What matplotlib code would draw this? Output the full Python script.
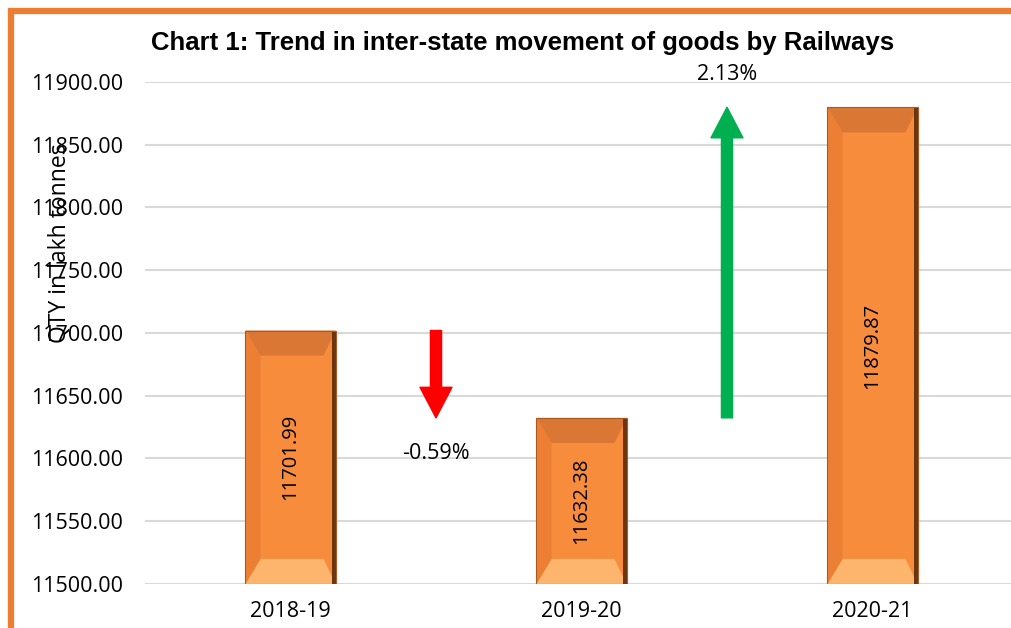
import matplotlib.pyplot as plt
from matplotlib.patches import Polygon, Rectangle

years = ["2018-19", "2019-20", "2020-21"]
qty = [11701.99, 11632.38, 11879.87]
changes = ["-0.59%", "2.13%"]

ORANGE = "#F68C3C"
TOP_BEVEL = "#DA7735"
BOTTOM_BEVEL = "#FDB46C"
LEFT_BEVEL = "#EC7F33"
RIGHT_EDGE = "#6B3510"
BORDER = "#ED7D31"

plt.rcParams["font.family"] = ["Open Sans", "DejaVu Sans"]

fig = plt.figure(figsize=(10.11, 6.28), dpi=100)
ax = fig.add_axes([145 / 1011, 44 / 628, 873 / 1011, 502 / 628])

ymin, ymax = 11500, 11900
ax.set_xlim(-0.5, 2.5)
ax.set_ylim(ymin, ymax)

bar_w = 0.31
bars = ax.bar(range(len(years)), [v - ymin for v in qty], bottom=ymin,
              width=bar_w, color=ORANGE, edgecolor="none", zorder=2)

# bevel look like the excel bars
dx = 0.052
dy = 20
for i, (b, v) in enumerate(zip(bars, qty)):
    x0 = b.get_x()
    x1 = x0 + b.get_width()
    y0, y1 = ymin, v
    ax.add_patch(Polygon([(x0, y1), (x1, y1), (x1 - dx * 0.8, y1 - dy), (x0 + dx, y1 - dy)],
                         closed=True, color=TOP_BEVEL, lw=0, zorder=3))
    ax.add_patch(Polygon([(x0, y0), (x1, y0), (x1 - dx * 0.8, y0 + dy), (x0 + dx, y0 + dy)],
                         closed=True, color=BOTTOM_BEVEL, lw=0, zorder=3))
    ax.add_patch(Polygon([(x0, y0), (x0, y1), (x0 + dx, y1 - dy), (x0 + dx, y0 + dy)],
                         closed=True, color=LEFT_BEVEL, lw=0, zorder=3))
    ax.add_patch(Rectangle((x1 - 0.012, y0), 0.012, y1 - y0, color=RIGHT_EDGE, lw=0, zorder=4))
    ax.add_patch(Rectangle((x0, y0), bar_w, y1 - y0, fill=False, edgecolor="#A85A22",
                           lw=0.8, zorder=4))
    ax.text(i, (y0 + y1) / 2, f"{v:.2f}", rotation=90, ha="center", va="center",
            fontsize=14.5, color="black", zorder=5)

# change arrows between the bars
arrow_cols = ["#FF0000", "#00B050"]
for k in range(len(changes)):
    start, end = qty[k], qty[k + 1]
    ax.annotate("", xy=(k + 0.5, end), xytext=(k + 0.5, start),
                arrowprops=dict(width=8, headwidth=23, headlength=22, color=arrow_cols[k], shrink=0),
                zorder=5)
    if end < start:
        ax.text(k + 0.5, end - 28, changes[k], ha="center", va="center", fontsize=15.5)
    else:
        ax.text(k + 0.5, ymax + 6, changes[k], ha="center", va="center", fontsize=15.5, clip_on=False)

ax.set_yticks(range(ymin, ymax + 1, 50))
ax.set_yticklabels([f"{t:.2f}" for t in range(ymin, ymax + 1, 50)], fontsize=15.5)
ax.set_xticks(range(len(years)))
ax.set_xticklabels(years, fontsize=15.5)
ax.tick_params(length=0)
ax.tick_params(axis="x", pad=12)
ax.tick_params(axis="y", pad=16)
ax.grid(axis="y", color="#D9D9D9", lw=1.5, zorder=0)
ax.set_axisbelow(True)
for s in ax.spines.values():
    s.set_visible(False)

fig.text(60 / 1011, 1 - 243 / 628, "QTY in lakh tonnes", rotation=90, ha="center", va="center",
         fontsize=16.5)
fig.text(523 / 1011, 1 - 43 / 628, "Chart 1: Trend in inter-state movement of goods by Railways",
         ha="center", va="center", fontsize=18.5, fontweight="bold",
         family=["Liberation Sans", "DejaVu Sans"])

# orange frame (cropped at right/bottom)
fig.patches.append(Rectangle((11 / 1011, -0.1), 1.2, 1 - 11 / 628 + 0.1, transform=fig.transFigure,
                             fill=False, edgecolor=BORDER, lw=4.5, zorder=10))

fig.savefig("out.png", dpi=100)
